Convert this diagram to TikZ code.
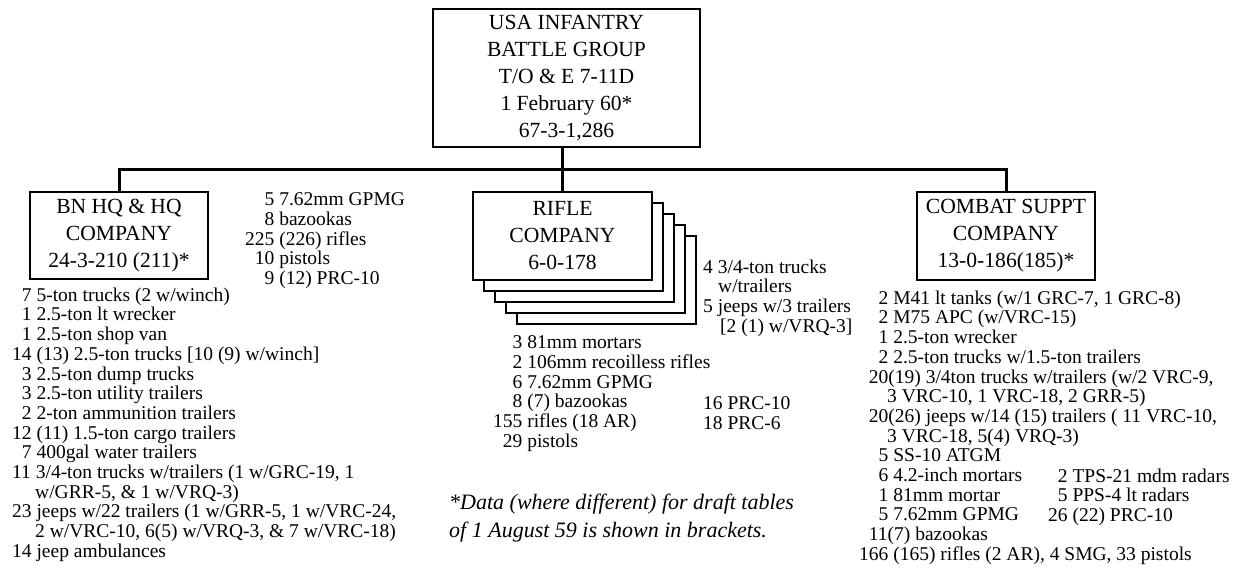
\documentclass[tikz,border=0pt]{standalone}
\usepackage{fontspec}
\setmainfont{Liberation Serif}
\definecolor{orgink}{HTML}{000000}
\tikzset{
  unit box/.style={
    draw=orgink, fill=white, line width=2.5pt,
    inner sep=0pt, outer sep=0pt, align=center,
    text=orgink, font=\fontsize{21.6}{27}\selectfont
  },
  group box/.style={unit box, line width=2pt},
  org line/.style={draw=orgink, line width=3pt},
  kit list/.style={
    anchor=north west, inner sep=0pt, align=left,
    text=orgink, font=\fontsize{19.5}{19.7}\selectfont
  },
  note text/.style={kit list, font=\fontsize{22}{28}\selectfont\itshape}
}

\begin{document}
\begin{tikzpicture}[x=1pt,y=-1pt]
  \useasboundingbox (0,0) rectangle (1243,571);

  % Battle group head and its three companies.
  \node[group box, minimum width=267, minimum height=138] (bg) at (566.5,78)
    {USA INFANTRY\\BATTLE GROUP\\T/O \& E 7-11D\\1 February 60*\\67-3-1,286};
  \node[unit box, minimum width=178, minimum height=87] (hq) at (119,235.5)
    {BN HQ \& HQ\\COMPANY\\24-3-210 (211)*};
  % Four rifle companies: stacked cards behind the front one.
  \foreach \k in {4,3,2,1}
    \node[unit box, minimum width=179, minimum height=88] (rifle\k)
      at ({562.5+11*\k},{236+11*\k}) {};
  \node[unit box, minimum width=179, minimum height=88] (rifle) at (562.5,236)
    {RIFLE\\COMPANY\\6-0-178};
  \node[unit box, minimum width=178, minimum height=88] (sup) at (1006,236)
    {COMBAT SUPPT\\COMPANY\\13-0-186(185)*};

  \coordinate (bus) at (562,169);
  \draw[org line] (hq.north) |- (bus) -| (sup.north);
  \draw[org line] (rifle.north |- bg.south) -- (rifle.north);

  % Equipment lists; numbers are right aligned with phantoms.
  \node[kit list] (hqarms) at (245,192.5)
    {\phantom{00}5 7.62mm GPMG\\\phantom{00}8 bazookas\\225 (226) rifles\\
     \phantom{0}10 pistols\\\phantom{00}9 (12) PRC-10};
  \node[kit list] (hqkit) at (12,287.5)
    {\phantom{1}7 5-ton trucks (2 w/winch)\\
     \phantom{1}1 2.5-ton lt wrecker\\
     \phantom{1}1 2.5-ton shop van\\
     14 (13) 2.5-ton trucks [10 (9) w/winch]\\
     \phantom{1}3 2.5-ton dump trucks\\
     \phantom{1}3 2.5-ton utility trailers\\
     \phantom{1}2 2-ton ammunition trailers\\
     12 (11) 1.5-ton cargo trailers\\
     \phantom{1}7 400gal water trailers\\
     11 3/4-ton trucks w/trailers (1 w/GRC-19, 1\\
     \hspace*{23pt}w/GRR-5, \& 1 w/VRQ-3)\\
     23 jeeps w/22 trailers (1 w/GRR-5, 1 w/VRC-24,\\
     \hspace*{23pt}2 w/VRC-10, 6(5) w/VRQ-3, \& 7 w/VRC-18)\\
     14 jeep ambulances};

  \node[kit list] (riflecars) at (703,259.5)
    {4 3/4-ton trucks\\\hspace*{15pt}w/trailers\\
     5 jeeps w/3 trailers\\\hspace*{17pt}[2 (1) w/VRQ-3]};
  \node[kit list] (riflearms) at (493,335.5)
    {\phantom{00}3 81mm mortars\\
     \phantom{00}2 106mm recoilless rifles\\
     \phantom{00}6 7.62mm GPMG\\
     \phantom{00}8 (7) bazookas\\
     155 rifles (18 AR)\\
     \phantom{0}29 pistols};
  \node[kit list] (rifleradio) at (703,396.5) {16 PRC-10\\18 PRC-6};

  \node[kit list] (supkit) at (859,290.5)
    {\phantom{00}2 M41 lt tanks (w/1 GRC-7, 1 GRC-8)\\
     \phantom{00}2 M75 APC (w/VRC-15)\\
     \phantom{00}1 2.5-ton wrecker\\
     \phantom{00}2 2.5-ton trucks w/1.5-ton trailers\\
     \phantom{0}20(19) 3/4ton trucks w/trailers (w/2 VRC-9,\\
     \hspace*{28pt}3 VRC-10, 1 VRC-18, 2 GRR-5)\\
     \phantom{0}20(26) jeeps w/14 (15) trailers ( 11 VRC-10,\\
     \hspace*{28pt}3 VRC-18, 5(4) VRQ-3)\\
     \phantom{00}5 SS-10 ATGM\\
     \phantom{00}6 4.2-inch mortars\\
     \phantom{00}1 81mm mortar\\
     \phantom{00}5 7.62mm GPMG\\
     \phantom{0}11(7) bazookas\\
     166 (165) rifles (2 AR), 4 SMG, 33 pistols};
  \node[kit list] (supradar) at (1048,468.5)
    {\phantom{2}2 TPS-21 mdm radars\\\phantom{2}5 PPS-4 lt radars\\26 (22) PRC-10};

  \node[note text] (note) at (449,494)
    {*Data (where different) for draft tables\\of 1 August 59 is shown in brackets.};
\end{tikzpicture}
\end{document}
